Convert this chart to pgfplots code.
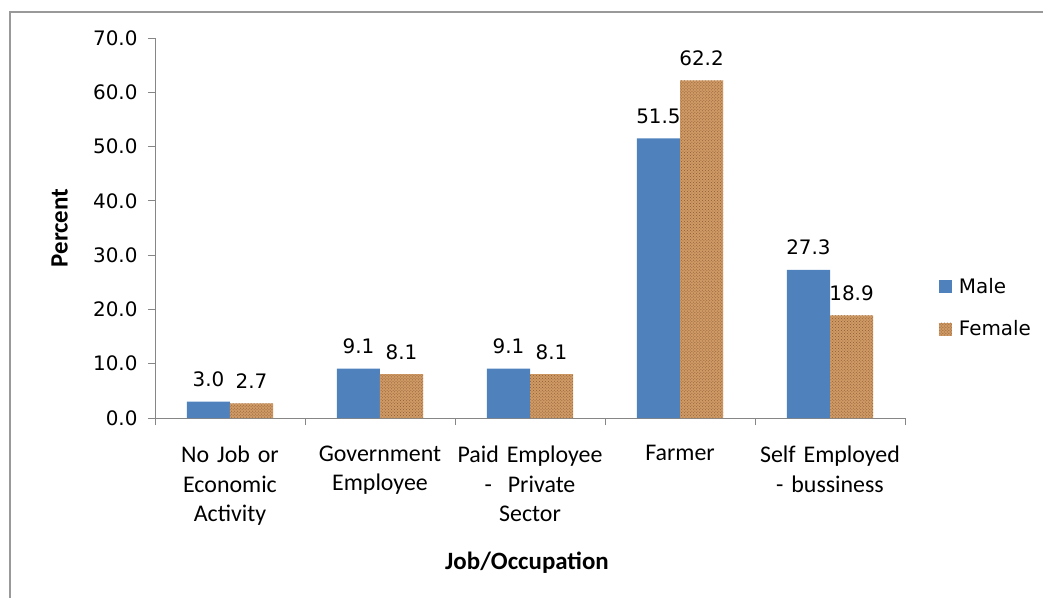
\documentclass[border=0pt]{standalone}
\usepackage{pgfplots}
\pgfplotsset{compat=1.18}
\usepackage{fontspec}
\setmainfont{Carlito}
\newfontfamily\dejavu{DejaVu Sans}
\usetikzlibrary{patterns}
\definecolor{male}{HTML}{4F81BD}
\definecolor{female}{HTML}{D09A66}
\definecolor{femdark}{HTML}{8A5A30}
\definecolor{axgray}{HTML}{868686}
\begin{document}
\begin{tikzpicture}
\useasboundingbox (-155bp,-180bp) rectangle (888bp,418bp);
\draw[color=gray!80, line width=2bp] (-145bp,-200bp) -- (-145bp,406bp) -- (950bp,406bp);
\begin{axis}[
  scale only axis,
  width=750bp, height=380bp,
  ybar, bar width=0.287, 
  xmin=-0.5, xmax=4.5,
  ymin=0, ymax=70,
  ytick={0,10,...,70},
  xtick={0,1,2,3,4},
  xticklabels={{No Job or\\Economic\\Activity},{Government\\Employee},{Paid Employee\\- \ Private\\Sector},{Farmer},{Self Employed\\- bussiness}},
  minor xtick={-0.5,0.5,1.5,2.5,3.5,4.5},
  major x tick style={draw=none},
  tick align=outside,
  major tick length=7bp,
  minor tick length=7bp,
  tick style={axgray, line width=0.8bp},
  axis x line*=bottom,
  axis y line*=left,
  axis line style={axgray, line width=0.8bp, -},
  y tick label style={font=\dejavu\fontsize{20}{23}\selectfont, xshift=-7bp},
  yticklabel style={/pgf/number format/fixed, /pgf/number format/fixed zerofill, /pgf/number format/precision=1, /pgf/number format/assume math mode=true},
  x tick label style={font=\fontsize{24}{30}\selectfont, align=center, text width=160bp, anchor=north, yshift=-17bp},
  xlabel={\bfseries Job/Occupation},
  ylabel={\bfseries Percent},
  every axis x label/.style={at={(axis description cs:0.496,-0.382)}, anchor=center, font=\fontsize{25}{28}\selectfont},
  every axis y label/.style={at={(axis description cs:-0.127,0.5)}, rotate=90, anchor=center, font=\fontsize{25}{28}\selectfont},
  nodes near coords,
  nodes near coords style={font=\dejavu\fontsize{20}{23}\selectfont, /pgf/number format/fixed, /pgf/number format/fixed zerofill, /pgf/number format/precision=1, /pgf/number format/assume math mode=true, yshift=11bp},
  legend style={draw=none, at={(1.045,0.29)}, anchor=west, font=\dejavu\fontsize{20}{23}\selectfont, row sep=22bp, inner sep=0pt, nodes={inner xsep=7bp}},
  legend cell align=left,
  legend image code/.code={\path[#1, draw=none] (0bp,-6.5bp) rectangle (13bp,6.5bp);},
  clip=false,
]
\addplot[fill=male, draw=none, bar shift=-0.1435] coordinates {(0,3.0) (1,9.1) (2,9.1) (3,51.5) (4,27.3)};
\addplot[fill=female, draw=none, bar shift=0.1435, postaction={pattern=crosshatch dots, pattern color=femdark}] coordinates {(0,2.7) (1,8.1) (2,8.1) (3,62.2) (4,18.9)};
\legend{Male,Female}
\end{axis}
\end{tikzpicture}
\end{document}
